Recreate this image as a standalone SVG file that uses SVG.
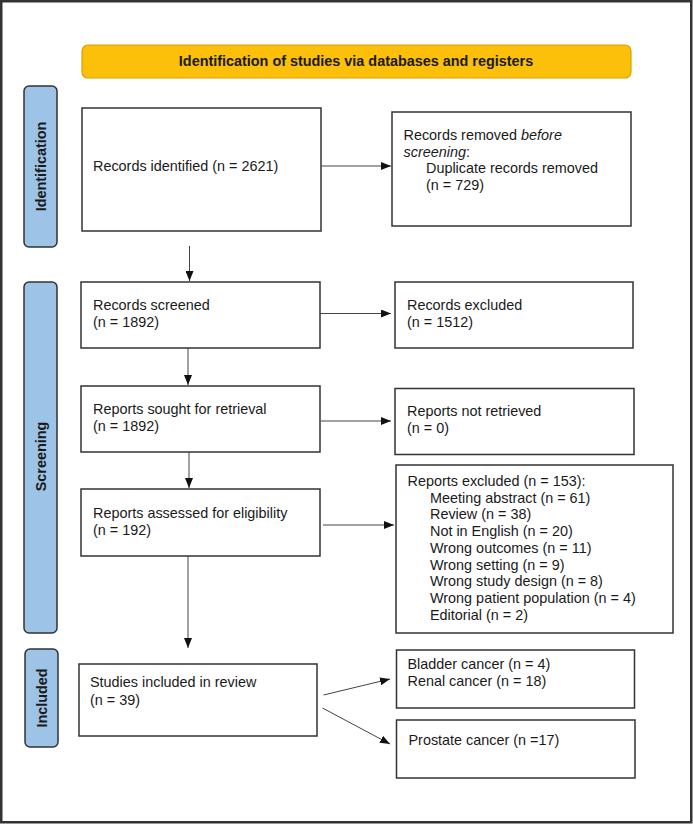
<svg xmlns="http://www.w3.org/2000/svg" width="693" height="824" viewBox="0 0 693 824">
<defs>
<style>
.box{fill:#fff;stroke:#333;stroke-width:1.5}
.side{fill:#9DC3E6;stroke:#333;stroke-width:1.5}
.t{font-family:"Liberation Sans",Arial,sans-serif;font-size:14.4px;fill:#1a1a1a}
.lb{font-family:"Liberation Sans",Arial,sans-serif;font-size:14.4px;font-weight:bold;fill:#1a1a1a}
.ln{stroke:#444;stroke-width:1;fill:none;marker-end:url(#ah)}
</style>
<marker id="ah" markerUnits="userSpaceOnUse" markerWidth="10" markerHeight="8" refX="10" refY="4" orient="auto">
<path d="M0,0 L10,4 L0,8 z" fill="#111"/>
</marker>
</defs>
<rect x="0" y="0" width="693" height="824" fill="#fff"/>
<rect x="1.25" y="1.25" width="690" height="821" fill="none" stroke="#333" stroke-width="2.5"/>

<g id="banner">
<rect x="82" y="45" width="549" height="33" rx="6" fill="#FCBF0A" stroke="#D6A200" stroke-width="1.2"/>
<text class="lb" x="356" y="66" text-anchor="middle" font-size="14">Identification of studies via databases and registers</text>
</g>

<g id="label-identification">
<rect class="side" x="24" y="86" width="33" height="161" rx="5"/>
<text class="lb" transform="translate(45.5,166.5) rotate(-90)" text-anchor="middle">Identification</text>
</g>
<g id="label-screening">
<rect class="side" x="24" y="282" width="33" height="351" rx="5"/>
<text class="lb" transform="translate(45.5,456.5) rotate(-90)" text-anchor="middle">Screening</text>
</g>
<g id="label-included">
<rect class="side" x="25" y="649" width="33" height="98" rx="5"/>
<text class="lb" transform="translate(46.5,698) rotate(-90)" text-anchor="middle" font-size="14">Included</text>
</g>

<g id="records-identified">
<rect class="box" x="82" y="108" width="239" height="123"/>
<text class="t" x="93" y="171">Records identified (n = 2621)</text>
</g>
<g id="records-removed">
<rect class="box" x="392" y="112" width="239" height="114"/>
<text class="t" x="403.5" y="140">Records removed <tspan font-style="italic">before</tspan></text>
<text class="t" x="403.5" y="156.5"><tspan font-style="italic">screening</tspan>:</text>
<text class="t" x="426" y="173">Duplicate records removed</text>
<text class="t" x="426" y="190">(n = 729)</text>
</g>
<g id="records-screened">
<rect class="box" x="81" y="282" width="239" height="66"/>
<text class="t" x="93" y="309.5">Records screened</text>
<text class="t" x="93" y="327">(n = 1892)</text>
</g>
<g id="records-excluded">
<rect class="box" x="395" y="282" width="238" height="66"/>
<text class="t" x="407" y="309.5">Records excluded</text>
<text class="t" x="407" y="327">(n = 1512)</text>
</g>
<g id="reports-sought">
<rect class="box" x="81" y="386" width="239" height="66"/>
<text class="t" x="93" y="414">Reports sought for retrieval</text>
<text class="t" x="93" y="431">(n = 1892)</text>
</g>
<g id="reports-not-retrieved">
<rect class="box" x="395" y="388.5" width="239" height="66"/>
<text class="t" x="407" y="416">Reports not retrieved</text>
<text class="t" x="407" y="433">(n = 0)</text>
</g>
<g id="reports-assessed">
<rect class="box" x="81" y="489" width="239" height="67"/>
<text class="t" x="93" y="518">Reports assessed for eligibility</text>
<text class="t" x="93" y="534.5">(n = 192)</text>
</g>
<g id="reports-excluded">
<rect class="box" x="396" y="465" width="277" height="168"/>
<text class="t" x="407.5" y="486">Reports excluded (n = 153):</text>
<text class="t" x="430" y="502.7">Meeting abstract (n = 61)</text>
<text class="t" x="430" y="519.4">Review (n = 38)</text>
<text class="t" x="430" y="536.1">Not in English (n = 20)</text>
<text class="t" x="430" y="552.8">Wrong outcomes (n = 11)</text>
<text class="t" x="430" y="569.5">Wrong setting (n = 9)</text>
<text class="t" x="430" y="586.2">Wrong study design (n = 8)</text>
<text class="t" x="430" y="602.9">Wrong patient population (n = 4)</text>
<text class="t" x="430" y="619.6">Editorial (n = 2)</text>
</g>
<g id="studies-included">
<rect class="box" x="79" y="664" width="238" height="72"/>
<text class="t" x="90" y="687">Studies included in review</text>
<text class="t" x="90" y="704.5">(n = 39)</text>
</g>
<g id="bladder-renal">
<rect class="box" x="396.5" y="650" width="238" height="58"/>
<text class="t" x="407.5" y="668.5">Bladder cancer (n = 4)</text>
<text class="t" x="407.5" y="686">Renal cancer (n = 18)</text>
</g>
<g id="prostate">
<rect class="box" x="396.5" y="720" width="238.5" height="58"/>
<text class="t" x="408.5" y="744.5">Prostate cancer (n =17)</text>
</g>

<g id="connectors">
<line class="ln" x1="321" y1="166" x2="391" y2="166"/>
<line class="ln" x1="189.5" y1="246" x2="189.5" y2="281"/>
<line class="ln" x1="320" y1="313.5" x2="391" y2="313.5"/>
<line class="ln" x1="188" y1="348" x2="188" y2="385"/>
<line class="ln" x1="321" y1="421" x2="391" y2="421"/>
<line class="ln" x1="189" y1="452" x2="189" y2="488"/>
<line class="ln" x1="323" y1="525" x2="394" y2="525"/>
<line class="ln" x1="188" y1="556" x2="188" y2="648"/>
<line class="ln" x1="323.5" y1="695" x2="390" y2="679"/>
<line class="ln" x1="322.5" y1="708" x2="390" y2="744"/>
</g>
</svg>
